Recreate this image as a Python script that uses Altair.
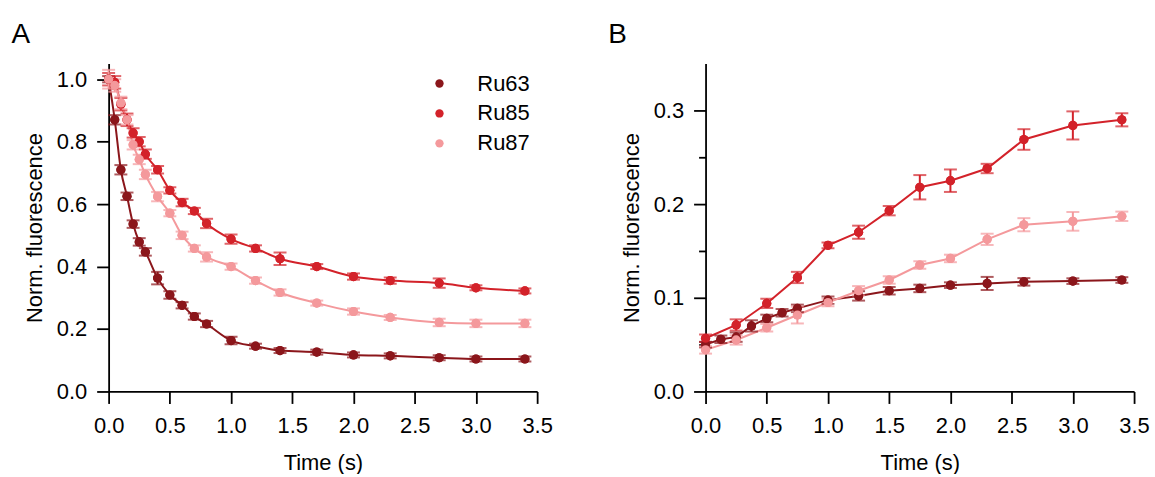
import altair as alt
import pandas as pd

SERIES = ["Ru63", "Ru85", "Ru87"]
COLORS = ["#8B161B", "#D3222A", "#F4999C"]

# Panel A: fluorescence decay
tA = [0, 0.05, 0.1, 0.15, 0.2, 0.25, 0.3, 0.4, 0.5, 0.6, 0.7, 0.8, 1.0, 1.2, 1.4, 1.7, 2.0, 2.3, 2.7, 3.0, 3.4]
a_ru63 = [1.0, 0.87, 0.71, 0.625, 0.536, 0.479, 0.447, 0.363, 0.309, 0.276, 0.24, 0.216, 0.163, 0.145, 0.131, 0.126, 0.117, 0.114, 0.108, 0.104, 0.104]
a_ru63_err = [0.01, 0.015, 0.015, 0.012, 0.012, 0.012, 0.012, 0.02, 0.012, 0.01, 0.01, 0.01, 0.012, 0.008, 0.008, 0.008, 0.008, 0.008, 0.008, 0.008, 0.008]
a_ru85 = [1.0, 0.99, 0.92, 0.87, 0.828, 0.80, 0.76, 0.71, 0.644, 0.605, 0.578, 0.538, 0.488, 0.458, 0.425, 0.40, 0.368, 0.355, 0.347, 0.332, 0.322]
a_ru85_err = [0.02, 0.02, 0.02, 0.02, 0.015, 0.015, 0.015, 0.012, 0.01, 0.012, 0.01, 0.015, 0.015, 0.01, 0.02, 0.008, 0.01, 0.01, 0.015, 0.008, 0.008]
a_ru87 = [1.0, 0.98, 0.924, 0.87, 0.79, 0.743, 0.695, 0.624, 0.571, 0.50, 0.458, 0.431, 0.40, 0.355, 0.317, 0.283, 0.256, 0.237, 0.221, 0.218, 0.218]
a_ru87_err = [0.03, 0.02, 0.02, 0.015, 0.015, 0.015, 0.015, 0.015, 0.01, 0.012, 0.01, 0.015, 0.01, 0.01, 0.01, 0.008, 0.01, 0.008, 0.012, 0.012, 0.012]

# Panel B: rise
tB63 = [0, 0.125, 0.25, 0.375, 0.5, 0.625, 0.75, 1.0, 1.25, 1.5, 1.75, 2.0, 2.3, 2.6, 3.0, 3.4]
b_ru63 = [0.05, 0.0557, 0.058, 0.07, 0.078, 0.084, 0.0887, 0.0975, 0.102, 0.1075, 0.110, 0.1135, 0.1153, 0.117, 0.1178, 0.119]
b_ru63_err = [0.003, 0.004, 0.005, 0.006, 0.004, 0.004, 0.004, 0.004, 0.005, 0.004, 0.004, 0.003, 0.007, 0.004, 0.003, 0.003]
tB = [0, 0.25, 0.5, 0.75, 1.0, 1.25, 1.5, 1.75, 2.0, 2.3, 2.6, 3.0, 3.4]
b_ru85 = [0.0568, 0.071, 0.094, 0.1217, 0.156, 0.170, 0.193, 0.218, 0.225, 0.238, 0.269, 0.284, 0.290]
b_ru85_err = [0.004, 0.006, 0.005, 0.006, 0.003, 0.007, 0.005, 0.013, 0.012, 0.005, 0.011, 0.015, 0.007]
b_ru87 = [0.0444, 0.055, 0.068, 0.0816, 0.095, 0.1075, 0.119, 0.135, 0.142, 0.1624, 0.178, 0.1816, 0.187]
b_ru87_err = [0.004, 0.005, 0.004, 0.009, 0.004, 0.005, 0.004, 0.004, 0.004, 0.006, 0.007, 0.01, 0.005]

FONT = "Liberation Sans"
FS = 22


def frame(series):
    rows = []
    for name, (ts, vs, es) in series.items():
        for t, v, e in zip(ts, vs, es):
            rows.append({"t": t, "v": v, "lo": v - e, "hi": v + e, "s": name})
    return pd.DataFrame(rows)


dfA = frame({"Ru63": (tA, a_ru63, a_ru63_err), "Ru85": (tA, a_ru85, a_ru85_err), "Ru87": (tA, a_ru87, a_ru87_err)})
dfB = frame({"Ru63": (tB63, b_ru63, b_ru63_err), "Ru85": (tB, b_ru85, b_ru85_err), "Ru87": (tB, b_ru87, b_ru87_err)})

x_ticks = [i * 0.25 for i in range(15)]
x_major = "round(datum.value*4)%2==0"


def axis(values, major, fmt, title, pad, tpad):
    return alt.Axis(
        values=values,
        labelExpr=f"{major} ? format(datum.value, '{fmt}') : ''",
        tickSize={"condition": {"test": major, "value": 12}, "value": 7},
        title=title,
        grid=False,
        labelFlush=False,
        labelPadding=pad,
        titlePadding=tpad,
    )


xenc = alt.X("t:Q", scale=alt.Scale(domain=[0, 3.5], nice=False),
             axis=axis(x_ticks, x_major, ".1f", "Time (s)", 12, 16))


def panel(df, ydom, yvals, ymajor, letter, interp, legend):
    yenc = alt.Y("v:Q", scale=alt.Scale(domain=ydom, nice=False, zero=False),
                 axis=axis(yvals, ymajor, ".1f", "Norm. fluorescence", 10, 10))
    cscale = alt.Scale(domain=SERIES, range=COLORS)
    base = alt.Chart(df)
    pts_legend = base.mark_circle(size=85, opacity=1).encode(
        x=xenc, y=yenc, color=alt.Color("s:N", scale=cscale, legend=legend))
    line = base.mark_line(strokeWidth=2, interpolate=interp).encode(
        x="t:Q", y="v:Q", color=alt.Color("s:N", scale=cscale, legend=None), detail="s:N")
    err = base.mark_errorbar(ticks=True, size=13, thickness=2).encode(
        x=alt.X("t:Q"), y=alt.Y("lo:Q", title="Norm. fluorescence"), y2="hi:Q",
        color=alt.Color("s:N", scale=cscale, legend=None))
    pts = base.mark_circle(size=85, opacity=1).encode(
        x="t:Q", y="v:Q", color=alt.Color("s:N", scale=cscale, legend=None))
    return alt.layer(pts_legend, line, err, pts).properties(
        width=430, height=329,
        title=alt.TitleParams(letter, anchor="start", fontSize=28, fontWeight="normal",
                              font=FONT, dx=-12, offset=15),
    )


legendA = alt.Legend(title=None, orient="none", legendX=321, legendY=9,
                     symbolType="circle", symbolSize=70, symbolStrokeWidth=0,
                     labelFontSize=FS, labelFont=FONT, labelColor="black",
                     labelOffset=27, rowPadding=8, padding=0)

chartA = panel(dfA, [0, 1.05], [i * 0.1 for i in range(11)], "round(datum.value*10)%2==0", "A", "monotone", legendA)
chartB = panel(dfB, [0, 0.35], [i * 0.05 for i in range(8)], "round(datum.value*20)%2==0", "B", "linear", None)

chart = alt.hconcat(chartA, chartB, spacing=55).resolve_scale(color="independent").resolve_legend(
    color="independent"
).properties(
    padding={"left": 11, "top": 20, "right": 5, "bottom": 0}, background="white"
).configure_view(
    stroke=None
).configure_axis(
    domainColor="black", domainWidth=1.8, tickColor="black", tickWidth=1.8,
    labelFont=FONT, labelFontSize=FS, labelColor="black",
    titleFont=FONT, titleFontSize=FS, titleFontWeight="normal", titleColor="black",
)

chart.save("out.html", embed_options={"renderer": "svg", "actions": False})
